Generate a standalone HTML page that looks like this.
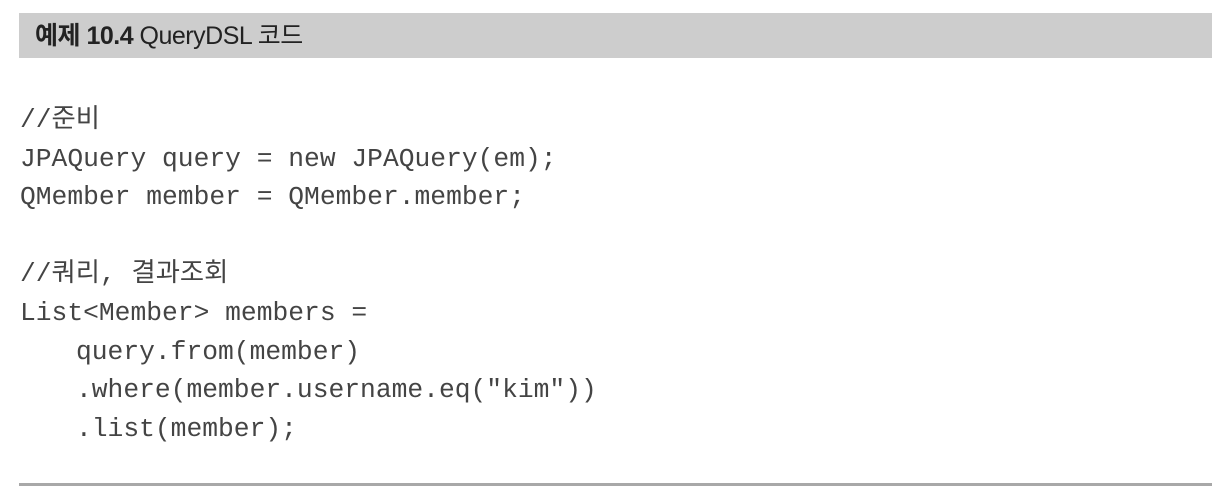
<!DOCTYPE html>
<html><head><meta charset="utf-8"><style>
body{margin:0;width:1230px;height:490px;background:#fff;position:relative;overflow:hidden}
.bar{position:absolute;left:19px;top:13px;width:1193px;height:45px;background:#cdcdcd}
.title{position:absolute;left:35px;top:14px;height:45px;line-height:45px;font-family:"Liberation Sans","Noto Sans CJK KR",sans-serif;font-size:25px;color:#222;letter-spacing:-0.5px}
.code{position:absolute;left:20px;font-family:"Liberation Mono","Noto Sans CJK KR",monospace;font-size:26.3px;color:#444;white-space:pre;line-height:30px}
.line{position:absolute;left:19px;top:483px;width:1193px;height:3px;background:#a8a8a8}
</style></head><body>
<div class="bar"></div>
<div class="title"><b>예제 10.4</b> QueryDSL 코드</div>
<div class="code" style="top:105px">//준비</div>
<div class="code" style="top:144px">JPAQuery query = new JPAQuery(em);</div>
<div class="code" style="top:182px">QMember member = QMember.member;</div>
<div class="code" style="top:259px">//쿼리, 결과조회</div>
<div class="code" style="top:298px">List&lt;Member&gt; members =</div>
<div class="code" style="top:337px;left:76px">query.from(member)</div>
<div class="code" style="top:375px;left:76px">.where(member.username.eq("kim"))</div>
<div class="code" style="top:414px;left:76px">.list(member);</div>
<div class="line"></div>
</body></html>
